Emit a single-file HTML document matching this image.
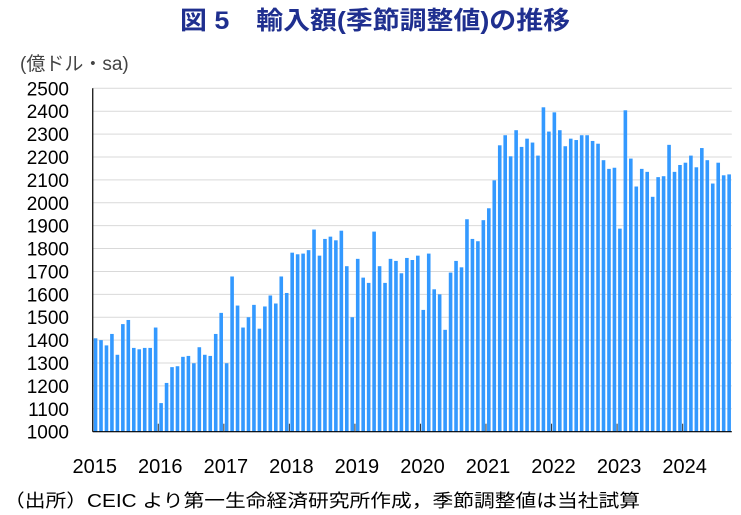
<!DOCTYPE html>
<html><head><meta charset="utf-8"><style>
html,body{margin:0;padding:0;background:#fff;width:741px;height:515px;overflow:hidden}
svg{display:block}
text{font-family:"Liberation Sans","Noto Sans CJK JP",sans-serif}
</style></head><body>
<svg id="c" width="741" height="515">
<text x="180" y="29" textLength="390" lengthAdjust="spacingAndGlyphs" font-size="25" font-weight="bold" fill="#1f2f8f">図 5　輸入額(季節調整値)の推移</text>
<text x="20" y="70" font-size="19" fill="#444">(億ドル・sa)</text>
<g id="grid"></g><g id="bars"></g><g id="axes"></g>
<text x="4" y="507" textLength="636" lengthAdjust="spacingAndGlyphs" font-size="18" fill="#000">（出所）CEIC より第一生命経済研究所作成，季節調整値は当社試算</text>
</svg>
<script>
const years=["2015","2016","2017","2018","2019","2020","2021","2022","2023","2024"];
const yTicks=[1000,1100,1200,1300,1400,1500,1600,1700,1800,1900,2000,2100,2200,2300,2400,2500];
const v2015=[1408,1400,1377,1427,1336,1470,1488,1366,1360,1366,1366,1455];
const v2016=[1125,1213,1282,1286,1327,1331,1299,1369,1336,1331,1427,1519];
const v2017=[1299,1678,1551,1455,1500,1554,1450,1547,1595,1560,1678,1606];
const v2018=[1782,1775,1778,1793,1883,1769,1842,1852,1836,1878,1723,1500];
const v2019=[1755,1673,1650,1874,1723,1650,1755,1746,1692,1759,1750,1769];
const v2020=[1532,1778,1622,1600,1445,1695,1746,1718,1928,1842,1832,1924];
const v2021=[1976,2098,2251,2295,2203,2317,2244,2280,2263,2206,2417,2311];
const v2022=[2395,2317,2247,2280,2274,2295,2295,2270,2258,2186,2148,2153];
const v2023=[1887,2404,2193,2071,2148,2135,2026,2112,2116,2253,2135,2165];
const v2024=[2175,2206,2155,2239,2186,2084,2175,2120,2124];
const values=[].concat(v2015,v2016,v2017,v2018,v2019,v2020,v2021,v2022,v2023,v2024);
const NS="http://www.w3.org/2000/svg";
const L=92.75,R=731.8,T=88.3,B=431.7,yMin=1000,yMax=2500,slots=117;
const sw=(R-L)/slots;
const y=v=>B-(v-yMin)/(yMax-yMin)*(B-T);
const x=i=>L+i*sw;
function mk(tag,attrs,parent){const e=document.createElementNS(NS,tag);for(const k in attrs)e.setAttribute(k,attrs[k]);parent.appendChild(e);return e;}
const grid=document.getElementById('grid'),bars=document.getElementById('bars'),axes=document.getElementById('axes');
yTicks.forEach(t=>{
  const ln=mk('line',{x1:L,x2:R,y1:y(t),y2:y(t),stroke:'#d9d9d9','stroke-width':1},grid);
  
  
  const tx=mk('text',{x:69,y:y(t)+7,'text-anchor':'end','font-size':19,fill:'#000'},axes);
  tx.textContent=t;
  
  
});
values.forEach((v,i)=>{
  const r=mk('rect',{x:x(i)+1.0,y:y(v),width:3.6,height:B-y(v),fill:'#3399ff'},bars);
  
  
});
const ax=mk('line',{x1:L,x2:L,y1:T,y2:B,stroke:'#000','stroke-width':1.2},axes);


const bx=mk('line',{x1:L,x2:R,y1:B,y2:B,stroke:'#000','stroke-width':1.2},axes);


years.forEach((yr,k)=>{
  const px=x(k*12);
  if(k>0){const tk=mk('line',{x1:px,x2:px,y1:B-8,y2:B,stroke:'#333','stroke-width':1},axes);
  
  }
  const tx=mk('text',{x:px+2,y:473,'text-anchor':'middle','font-size':20,fill:'#000'},axes);
  tx.textContent=yr;
  
  
});
</script>
</body></html>
